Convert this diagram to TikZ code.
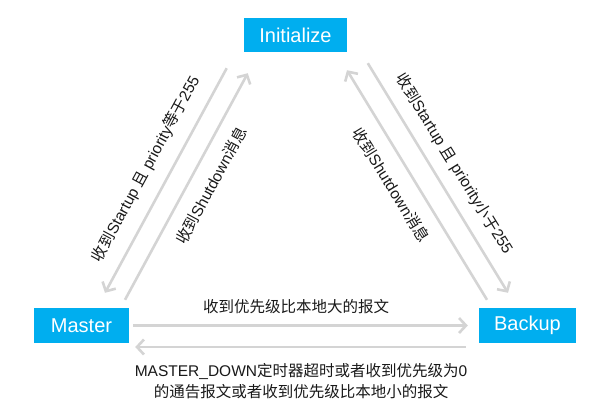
\documentclass[tikz,border=0pt]{standalone}
\usepackage{fontspec}
\setmainfont{Liberation Sans}
\newfontfamily\cjkfont{Noto Sans CJK SC}
\newcommand\zhs[1]{{\cjkfont #1}}
\usetikzlibrary{arrows.meta}
\definecolor{boxblue}{RGB}{0,174,239}
\definecolor{arrgray}{RGB}{212,212,212}
\definecolor{txt}{RGB}{25,25,25}
\begin{document}
\begin{tikzpicture}[x=1pt,y=-1pt,
  statebox/.style={fill=boxblue, text=white, inner sep=0pt, minimum height=35pt,
    font=\fontsize{20}{24}\selectfont},
  arr/.style={draw=arrgray, line width=2.6pt, -{Straight Barb[length=7pt,width=15pt,line width=2.6pt]}},
  lbl/.style={text=txt, inner sep=0pt, font=\fontsize{15.5}{21}\selectfont, align=center}]
\useasboundingbox (0,0) rectangle (612,416);
\node[statebox, minimum width=103pt, minimum height=34pt] (init) at (295.5,35) {Initialize};
\node[statebox, minimum width=95pt] (master) at (81.5,325.5) {Master};
\node[statebox, minimum width=97pt] (backup) at (527.5,325.5) {Backup};
% left pair
\draw[arr] ([shift={(-68.8,16)}]init.south) -- ([shift={(23.5,-15)}]master.north);
\draw[arr] ([shift={(43.5,-8)}]master.north) -- ([shift={(4,21)}]init.south west);
% right pair
\draw[arr] ([shift={(124,11)}]init.south west) -- ([shift={(-19.5,-15)}]backup.north);
\draw[arr] ([shift={(-40.5,-8)}]backup.north) -- ([shift={(51.5,18)}]init.south);
% horizontal
\draw[arr] ([shift={(4,0)}]master.east) -- ([shift={(-11,0)}]backup.west);
\draw[arr] ([shift={(-13,21.5)}]backup.west) -- ([shift={(6,21.5)}]master.east);
% labels
\node[lbl, rotate=61.6] (t1) at (146,169) {\zhs{收到}Startup \zhs{且} priority\zhs{等于}255};
\node[lbl, rotate=61.6] (t2) at (211,185.5) {\zhs{收到}Shutdown\zhs{消息}};
\node[lbl, rotate=-58.3] (t3) at (454,164) {\zhs{收到}Startup \zhs{且} priority\zhs{小于}255};
\node[lbl, rotate=-58.3] (t4) at (391,185) {\zhs{收到}Shutdown\zhs{消息}};
\node[lbl] (t5) at (296,307) {\zhs{收到优先级比本地大的报文}};
\node[lbl] (t6) at (301,381) {MASTER\_DOWN\zhs{定时器超时或者收到优先级为}0\\\zhs{的通告报文或者收到优先级比本地小的报文}};
\end{tikzpicture}
\end{document}
